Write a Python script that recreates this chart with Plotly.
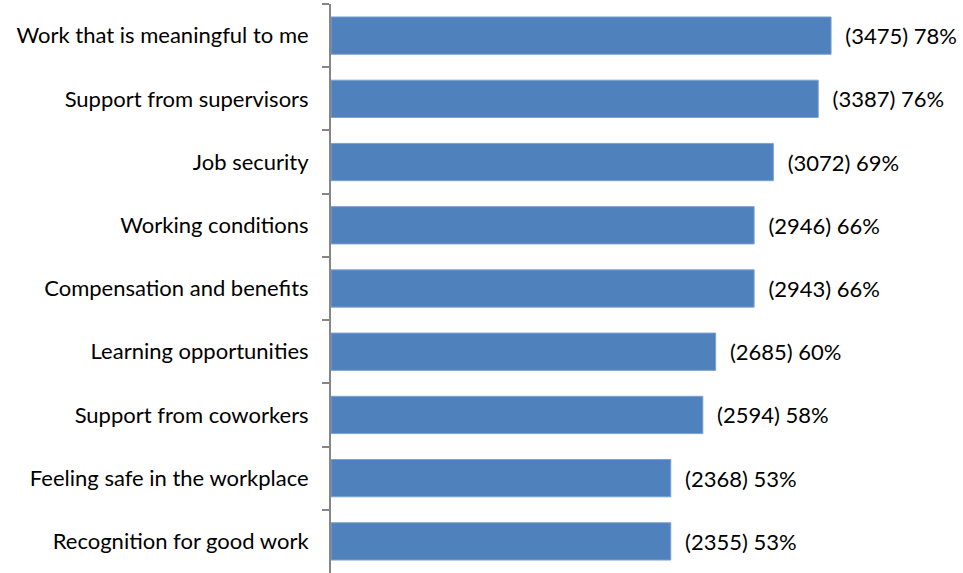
import plotly.graph_objects as go

# Survey responses: share of respondents choosing each factor
categories = [
    "Work that is meaningful to me",
    "Support from supervisors",
    "Job security",
    "Working conditions",
    "Compensation and benefits",
    "Learning opportunities",
    "Support from coworkers",
    "Feeling safe in the workplace",
    "Recognition for good work",
]
counts = [3475, 3387, 3072, 2946, 2943, 2685, 2594, 2368, 2355]
percents = [78, 76, 69, 66, 66, 60, 58, 53, 53]

labels = [f"  ({c}) {p}%" for c, p in zip(counts, percents)]

font_family = "Lato, 'Open Sans', sans-serif"

fig = go.Figure(
    go.Bar(
        y=categories,
        x=percents,
        orientation="h",
        text=labels,
        textposition="outside",
        cliponaxis=False,
        textfont=dict(family=font_family, size=22, color="#000000"),
        marker=dict(color="#4F81BD", line=dict(color="#7DA2D0", width=1)),
        hoverinfo="skip",
    )
)

fig.update_layout(
    width=963,
    height=573,
    margin=dict(l=331, r=55, t=4, b=0),
    paper_bgcolor="white",
    plot_bgcolor="white",
    bargap=0.41,
    showlegend=False,
    font=dict(family=font_family, size=22, color="#000000"),
)

fig.update_xaxes(
    range=[0, 90],
    showgrid=False,
    zeroline=False,
    showticklabels=False,
    showline=False,
    ticks="",
)

fig.update_yaxes(
    autorange="reversed",
    showgrid=False,
    showline=True,
    linecolor="#868686",
    linewidth=2,
    ticks="outside",
    tickson="boundaries",
    ticklen=7,
    tickcolor="#868686",
    tickwidth=2,
    ticklabelstandoff=16,
    tickfont=dict(family=font_family, size=22, color="#000000"),
)

fig.write_html("out.html")
